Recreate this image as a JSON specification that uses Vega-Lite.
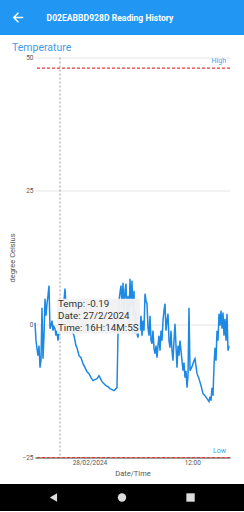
{
"$schema": "https://vega.github.io/schema/vega-lite/v6.json",
"background": "white",
"padding": 0,
"config": {"view": {"stroke": null}, "font": "Roboto"},
"datasets": {
"readings": [
{"time":"2024-02-27T17:39","temp":0.28},
{"time":"2024-02-27T17:46","temp":-3.09},
{"time":"2024-02-27T17:53","temp":-4.59},
{"time":"2024-02-27T18:00","temp":-5.91},
{"time":"2024-02-27T18:07","temp":-4.03},
{"time":"2024-02-27T18:14","temp":-8.16},
{"time":"2024-02-27T18:21","temp":-6.84},
{"time":"2024-02-27T18:28","temp":3.09},
{"time":"2024-02-27T18:35","temp":-6.47},
{"time":"2024-02-27T18:42","temp":-2.16},
{"time":"2024-02-27T18:49","temp":4.78},
{"time":"2024-02-27T18:56","temp":1.59},
{"time":"2024-02-27T19:03","temp":3.84},
{"time":"2024-02-27T19:10","temp":5.34},
{"time":"2024-02-27T19:17","temp":7.22},
{"time":"2024-02-27T19:24","temp":-0.84},
{"time":"2024-02-27T19:31","temp":-0.28},
{"time":"2024-02-27T19:38","temp":0.66},
{"time":"2024-02-27T19:45","temp":-1.22},
{"time":"2024-02-27T19:52","temp":-0.47},
{"time":"2024-02-27T19:59","temp":-0.84},
{"time":"2024-02-27T20:06","temp":-2.16},
{"time":"2024-02-27T20:13","temp":-1.22},
{"time":"2024-02-27T20:20","temp":-3.09},
{"time":"2024-02-27T20:27","temp":-1.2},
{"time":"2024-02-27T20:34","temp":-0.19},
{"time":"2024-02-27T20:48","temp":0.66},
{"time":"2024-02-27T21:02","temp":4.41},
{"time":"2024-02-27T21:09","temp":6.66},
{"time":"2024-02-27T21:16","temp":3.47},
{"time":"2024-02-27T21:23","temp":0.66},
{"time":"2024-02-27T21:30","temp":1.03},
{"time":"2024-02-27T21:44","temp":-0.28},
{"time":"2024-02-27T21:58","temp":-1.22},
{"time":"2024-02-27T22:12","temp":-2.16},
{"time":"2024-02-27T22:26","temp":-4.03},
{"time":"2024-02-27T22:33","temp":-4.41},
{"time":"2024-02-27T22:47","temp":-5.91},
{"time":"2024-02-27T23:01","temp":-6.28},
{"time":"2024-02-27T23:15","temp":-7.41},
{"time":"2024-02-27T23:29","temp":-8.16},
{"time":"2024-02-27T23:43","temp":-8.91},
{"time":"2024-02-27T23:57","temp":-9.28},
{"time":"2024-02-28T00:11","temp":-10.03},
{"time":"2024-02-28T00:25","temp":-10.59},
{"time":"2024-02-28T00:39","temp":-10.41},
{"time":"2024-02-28T00:53","temp":-10.22},
{"time":"2024-02-28T01:07","temp":-9.66},
{"time":"2024-02-28T01:14","temp":-10.03},
{"time":"2024-02-28T01:28","temp":-10.78},
{"time":"2024-02-28T01:42","temp":-11.16},
{"time":"2024-02-28T01:56","temp":-11.53},
{"time":"2024-02-28T02:10","temp":-11.72},
{"time":"2024-02-28T02:24","temp":-12.09},
{"time":"2024-02-28T02:38","temp":-12.28},
{"time":"2024-02-28T02:52","temp":-12.47},
{"time":"2024-02-28T03:06","temp":-12.09},
{"time":"2024-02-28T03:13","temp":-11.91},
{"time":"2024-02-28T03:20","temp":-1.78},
{"time":"2024-02-28T03:27","temp":4.41},
{"time":"2024-02-28T03:34","temp":5.91},
{"time":"2024-02-28T03:41","temp":7.22},
{"time":"2024-02-28T03:48","temp":3.47},
{"time":"2024-02-28T03:55","temp":7.78},
{"time":"2024-02-28T04:02","temp":1.59},
{"time":"2024-02-28T04:09","temp":6.28},
{"time":"2024-02-28T04:16","temp":7.59},
{"time":"2024-02-28T04:23","temp":0.66},
{"time":"2024-02-28T04:30","temp":5.34},
{"time":"2024-02-28T04:37","temp":-0.28},
{"time":"2024-02-28T04:44","temp":8.53},
{"time":"2024-02-28T04:51","temp":3.47},
{"time":"2024-02-28T04:58","temp":8.16},
{"time":"2024-02-28T05:05","temp":1.59},
{"time":"2024-02-28T05:12","temp":6.28},
{"time":"2024-02-28T05:19","temp":-1.78},
{"time":"2024-02-28T05:26","temp":2.53},
{"time":"2024-02-28T05:33","temp":-1.78},
{"time":"2024-02-28T05:40","temp":-2.53},
{"time":"2024-02-28T05:47","temp":0.66},
{"time":"2024-02-28T05:54","temp":-1.22},
{"time":"2024-02-28T06:01","temp":1.59},
{"time":"2024-02-28T06:08","temp":-2.16},
{"time":"2024-02-28T06:15","temp":0.66},
{"time":"2024-02-28T06:22","temp":-1.22},
{"time":"2024-02-28T06:29","temp":5.72},
{"time":"2024-02-28T06:36","temp":4.41},
{"time":"2024-02-28T06:43","temp":3.84},
{"time":"2024-02-28T06:50","temp":-0.66},
{"time":"2024-02-28T06:57","temp":-2.16},
{"time":"2024-02-28T07:04","temp":1.59},
{"time":"2024-02-28T07:11","temp":-3.09},
{"time":"2024-02-28T07:18","temp":-3.66},
{"time":"2024-02-28T07:25","temp":-1.22},
{"time":"2024-02-28T07:32","temp":-4.59},
{"time":"2024-02-28T07:39","temp":-5.53},
{"time":"2024-02-28T07:46","temp":-4.03},
{"time":"2024-02-28T07:53","temp":-6.28},
{"time":"2024-02-28T08:00","temp":-4.03},
{"time":"2024-02-28T08:07","temp":-2.16},
{"time":"2024-02-28T08:14","temp":-4.97},
{"time":"2024-02-28T08:21","temp":-1.22},
{"time":"2024-02-28T08:28","temp":-3.09},
{"time":"2024-02-28T08:35","temp":0.66},
{"time":"2024-02-28T08:42","temp":2.53},
{"time":"2024-02-28T08:49","temp":3.84},
{"time":"2024-02-28T08:56","temp":-1.22},
{"time":"2024-02-28T09:03","temp":0.66},
{"time":"2024-02-28T09:10","temp":1.97},
{"time":"2024-02-28T09:17","temp":-3.09},
{"time":"2024-02-28T09:24","temp":-4.41},
{"time":"2024-02-28T09:31","temp":-1.22},
{"time":"2024-02-28T09:38","temp":-4.97},
{"time":"2024-02-28T09:45","temp":-6.84},
{"time":"2024-02-28T09:52","temp":-3.09},
{"time":"2024-02-28T09:59","temp":0.09},
{"time":"2024-02-28T10:06","temp":-4.03},
{"time":"2024-02-28T10:13","temp":-8.16},
{"time":"2024-02-28T10:20","temp":-4.03},
{"time":"2024-02-28T10:27","temp":-5.91},
{"time":"2024-02-28T10:34","temp":-3.09},
{"time":"2024-02-28T10:41","temp":-4.97},
{"time":"2024-02-28T10:48","temp":-6.84},
{"time":"2024-02-28T10:55","temp":-8.72},
{"time":"2024-02-28T11:02","temp":-7.22},
{"time":"2024-02-28T11:09","temp":-10.03},
{"time":"2024-02-28T11:16","temp":-8.72},
{"time":"2024-02-28T11:23","temp":-11.91},
{"time":"2024-02-28T11:30","temp":-9.66},
{"time":"2024-02-28T11:37","temp":3.09},
{"time":"2024-02-28T11:44","temp":-8.72},
{"time":"2024-02-28T11:58","temp":-7.97},
{"time":"2024-02-28T12:12","temp":-6.84},
{"time":"2024-02-28T12:19","temp":-6.47},
{"time":"2024-02-28T12:33","temp":-9.28},
{"time":"2024-02-28T12:47","temp":-10.22},
{"time":"2024-02-28T13:01","temp":-11.53},
{"time":"2024-02-28T13:15","temp":-13.03},
{"time":"2024-02-28T13:29","temp":-13.41},
{"time":"2024-02-28T13:43","temp":-13.97},
{"time":"2024-02-28T13:57","temp":-14.53},
{"time":"2024-02-28T14:04","temp":-13.59},
{"time":"2024-02-28T14:11","temp":-14.34},
{"time":"2024-02-28T14:18","temp":-11.91},
{"time":"2024-02-28T14:25","temp":-13.41},
{"time":"2024-02-28T14:32","temp":-7.78},
{"time":"2024-02-28T14:39","temp":-4.41},
{"time":"2024-02-28T14:46","temp":-6.84},
{"time":"2024-02-28T14:53","temp":-1.22},
{"time":"2024-02-28T15:00","temp":-3.09},
{"time":"2024-02-28T15:07","temp":1.97},
{"time":"2024-02-28T15:14","temp":-0.28},
{"time":"2024-02-28T15:21","temp":2.53},
{"time":"2024-02-28T15:28","temp":-0.84},
{"time":"2024-02-28T15:35","temp":2.16},
{"time":"2024-02-28T15:42","temp":-2.16},
{"time":"2024-02-28T15:49","temp":1.03},
{"time":"2024-02-28T15:56","temp":-3.09},
{"time":"2024-02-28T16:03","temp":1.97},
{"time":"2024-02-28T16:10","temp":-4.97},
{"time":"2024-02-28T16:17","temp":-4.03}
],
"limits": [
{"limit":"High","temp":48},
{"limit":"Low","temp":-25}
],
"cursor": [
{"time":"2024-02-27T20:34","temp":-0.19,"label":"Temp: -0.19\nDate: 27/2/2024\nTime: 16H:14M:5S"}
],
"appbar": [
{"item":"back"},
{"item":"title","label":"D02EABBD928D Reading History"}
],
"navbar": [
{"button":"back"},
{"button":"home"},
{"button":"recents"}
]
},
"concat": [
{
"width": 244,
"height": 35,
"view": {"fill": "#2196F3", "stroke": null},
"data": {"name": "appbar"},
"encoding": {
"x": {"field": "item", "type": "nominal", "sort": null, "scale": {"type": "point", "domain": ["back", "title"], "padding": 0.826, "align": 0.118}, "axis": null}
},
"layer": [
{"transform": [{"filter": "datum.item === 'back'"}],
"mark": {"type": "point", "shape": "M1,-0.14L-0.47,-0.14L0.2,-0.8L0,-1L-1,0L0,1L0.2,0.8L-0.47,0.14L1,0.14Z", "filled": true, "color": "white", "opacity": 1, "size": 110}},
{"transform": [{"filter": "datum.item === 'title'"}],
"mark": {"type": "text", "color": "white", "fontSize": 8.6, "fontWeight": "bold"},
"encoding": {"text": {"field": "label"}}}
]
},
{
"hconcat": [
{"width": 8, "height": 1, "data": {"values": []}, "mark": "point"},
{
"width": 195,
"height": 400,
"title": {"text": "Temperature", "anchor": "start", "frame": "group", "dx": -23, "offset": 1, "fontSize": 10.5, "fontWeight": "normal", "color": "#3f9ae8"},
"layer": [
{"data": {"name": "readings"},
"mark": {"type": "line", "color": "#1e88e5", "strokeWidth": 1.5},
"encoding": {
"x": {"field": "time", "type": "temporal",
"scale": {"domain": [{"year": 2024, "month": 2, "date": 27, "hours": 17, "minutes": 39}, {"year": 2024, "month": 2, "date": 28, "hours": 16, "minutes": 24}]},
"axis": {"title": "Date/Time", "values": [{"year": 2024, "month": 2, "date": 28, "hours": 0}, {"year": 2024, "month": 2, "date": 28, "hours": 12}],
"labelExpr": "hours(datum.value) == 0 ? timeFormat(datum.value, '%d/%m/%Y') : timeFormat(datum.value, '%H:%M')",
"labelFontSize": 6.5, "labelColor": "#555", "labelPadding": 2, "labelFlush": false,
"ticks": false, "grid": false, "domain": true, "domainColor": "#444",
"titleFontSize": 7.5, "titleFontWeight": "normal", "titleColor": "#555", "titlePadding": 3}},
"y": {"field": "temp", "type": "quantitative",
"scale": {"domain": [-25, 50], "nice": false, "zero": false},
"axis": {"title": "degree Celsius", "values": [-25, 0, 25, 50],
"labelFontSize": 6.5, "labelColor": "#555", "labelPadding": 2,
"ticks": false, "domain": false, "grid": true, "gridColor": "#e6e6e6",
"titleFontSize": 7.5, "titleFontWeight": "normal", "titleColor": "#555", "titlePadding": 5}}
}},
{"data": {"name": "limits"},
"mark": {"type": "rule", "color": "#e53935", "strokeDash": [3, 2], "strokeWidth": 1.1},
"encoding": {"y": {"field": "temp", "type": "quantitative"}}},
{"data": {"name": "limits"},
"mark": {"type": "text", "align": "right", "baseline": "alphabetic", "dx": -4, "dy": -5, "fontSize": 7, "color": "#42a5f5"},
"encoding": {"x": {"value": "width"}, "y": {"field": "temp", "type": "quantitative"}, "text": {"field": "limit"}}},
{"data": {"name": "cursor"},
"mark": {"type": "rule", "color": "#999999", "strokeDash": [2, 2], "strokeWidth": 1},
"encoding": {"x": {"field": "time", "type": "temporal"}}},
{"data": {"name": "cursor"},
"mark": {"type": "point", "shape": "M-3,-26.5H80V8.5H-3Z", "size": 4, "filled": true, "color": "#f1f1f1", "opacity": 0.96, "strokeWidth": 0},
"encoding": {"x": {"field": "time", "type": "temporal"}, "y": {"field": "temp", "type": "quantitative"}}},
{"data": {"name": "cursor"},
"mark": {"type": "text", "align": "left", "baseline": "alphabetic", "dx": -2, "dy": -18, "fontSize": 9.8, "lineHeight": 12, "lineBreak": "\n", "color": "#333333"},
"encoding": {"x": {"field": "time", "type": "temporal"}, "y": {"field": "temp", "type": "quantitative"}, "text": {"field": "label"}}}
]
}
],
"spacing": 0
},
{
"width": 244,
"height": 27,
"view": {"fill": "#000000", "stroke": null},
"data": {"name": "navbar"},
"mark": {"type": "point", "filled": true, "color": "#dddddd", "opacity": 1, "size": 70},
"encoding": {
"x": {"field": "button", "type": "nominal", "sort": null, "scale": {"type": "point", "padding": 0.78}, "axis": null},
"shape": {"field": "button", "type": "nominal", "scale": {"domain": ["back", "home", "recents"], "range": ["triangle-left", "circle", "square"]}, "legend": null}
}
}
],
"columns": 1,
"align": "none",
"spacing": 7.5
}
